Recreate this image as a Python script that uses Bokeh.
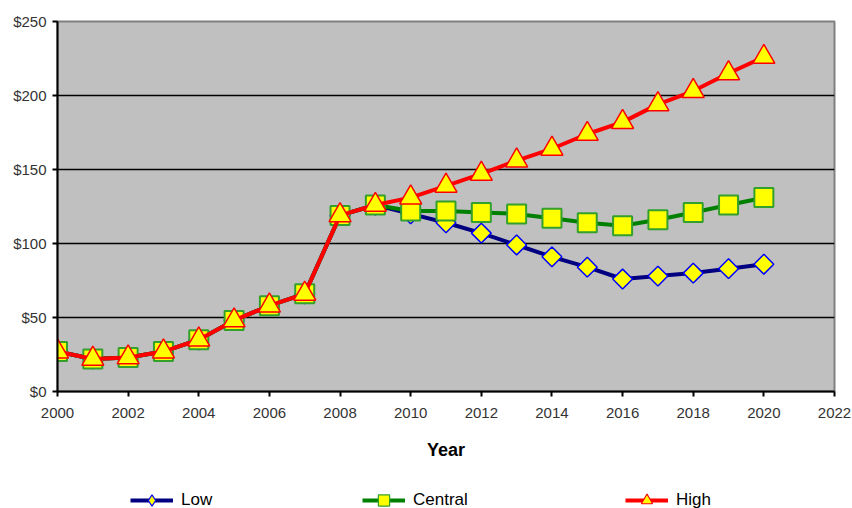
from bokeh.plotting import figure
from bokeh.layouts import column
from bokeh.models import (ColumnDataSource, Legend, LegendItem, PrintfTickFormatter,
                          FixedTicker, Range1d)
from bokeh.embed import file_html
from bokeh.resources import INLINE
import math

years = list(range(2000, 2021))
low = [27, 22, 23, 27, 35, 48, 58, 66, 119, 126, 120, 114, 107, 99, 91, 84, 76, 78, 80, 83, 86]
central = [27, 22, 23, 27, 35, 48, 58, 66, 119, 126, 122, 122, 121, 120, 117, 114, 112, 116, 121, 126, 131]
high = [27, 22, 23, 27, 35, 48, 58, 66, 119, 126, 131, 139, 147, 156, 164, 174, 182, 194, 203, 215, 226]
series_names = ["Low", "Central", "High"]
x_ticks = list(range(2000, 2023, 2))
y_ticks = [0, 50, 100, 150, 200, 250]

FONT = "Liberation Sans"

styles = [
    dict(line="#000080", marker="square", angle=math.pi / 4, size=14, mline="#0000FF", mw=1.5,
         lmarker="diamond"),
    dict(line="#008000", marker="square", angle=0, size=19, mline="#33A02C", mw=2,
         lmarker="square"),
    dict(line="#FF0000", marker="triangle", angle=0, size=22, mline="#FF0000", mw=1.5,
         lmarker="triangle"),
]

p = figure(width=852, height=470, output_backend="svg", toolbar_location=None,
           x_range=Range1d(2000, 2022), y_range=Range1d(0, 250),
           frame_width=777, frame_height=370,
           min_border_left=57, min_border_right=18, min_border_top=21, min_border_bottom=79)
p.background_fill_color = "#C0C0C0"
p.border_fill_color = "white"
p.outline_line_color = "#808080"
p.outline_line_width = 2

p.xaxis.ticker = FixedTicker(ticks=x_ticks)
p.yaxis.ticker = FixedTicker(ticks=y_ticks)
p.yaxis.formatter = PrintfTickFormatter(format="$%d")
for ax in (p.xaxis[0], p.yaxis[0]):
    ax.axis_line_color = "black"
    ax.axis_line_width = 2
    ax.major_tick_line_color = "black"
    ax.major_tick_line_width = 2
    ax.major_tick_in = 0
    ax.major_tick_out = 5
    ax.minor_tick_line_color = None
    ax.major_label_text_font = FONT
    ax.major_label_text_font_size = "15px"
    ax.major_label_text_color = "#333333"
p.xaxis.major_label_standoff = 11
p.yaxis.major_label_standoff = 6
p.xaxis.axis_label = "Year"
p.xaxis.axis_label_text_font = FONT
p.xaxis.axis_label_text_font_size = "18px"
p.xaxis.axis_label_text_font_style = "bold"
p.xaxis.axis_label_text_color = "black"
p.xaxis.axis_label_standoff = 19

p.xgrid.grid_line_color = None
p.ygrid.grid_line_color = "black"
p.ygrid.grid_line_width = 1.5

src = ColumnDataSource(dict(year=years, low=low, central=central, high=high))
for col, st in zip(["low", "central", "high"], styles):
    p.line("year", col, source=src, line_color=st["line"], line_width=4)
    p.scatter("year", col, source=src, marker=st["marker"], angle=st["angle"], size=st["size"],
              fill_color="yellow", line_color=st["mline"], line_width=st["mw"])

# legend strip (its ranges keep the series' own points outside the visible frame)
q = figure(width=852, height=38, output_backend="svg", toolbar_location=None,
           x_range=Range1d(0, 1), y_range=Range1d(0, 1), min_border=0)
q.axis.visible = False
q.grid.grid_line_color = None
q.outline_line_color = None
q.background_fill_color = "white"
q.border_fill_color = "white"

xlocs = [73, 305, 568]
for name, col, st, xl in zip(series_names, ["low", "central", "high"], styles, xlocs):
    lr = q.line("year", col, source=src, line_color=st["line"], line_width=4)
    mr = q.scatter("year", col, source=src, marker=st["lmarker"],
                   fill_color="yellow", line_color=st["mline"], line_width=1.2)
    lg = Legend(items=[LegendItem(label=name, renderers=[lr, mr])], location=(xl, -6),
                orientation="horizontal", glyph_width=43, glyph_height=28,
                label_height=16, padding=0, margin=0, spacing=0,
                label_standoff=8, background_fill_alpha=0, border_line_alpha=0,
                label_text_font=FONT, label_text_font_size="17px",
                label_text_color="black", label_text_baseline="middle")
    q.add_layout(lg, "center")

layout = column(p, q, spacing=0)
open("out.html", "w").write(file_html(layout, INLINE))
